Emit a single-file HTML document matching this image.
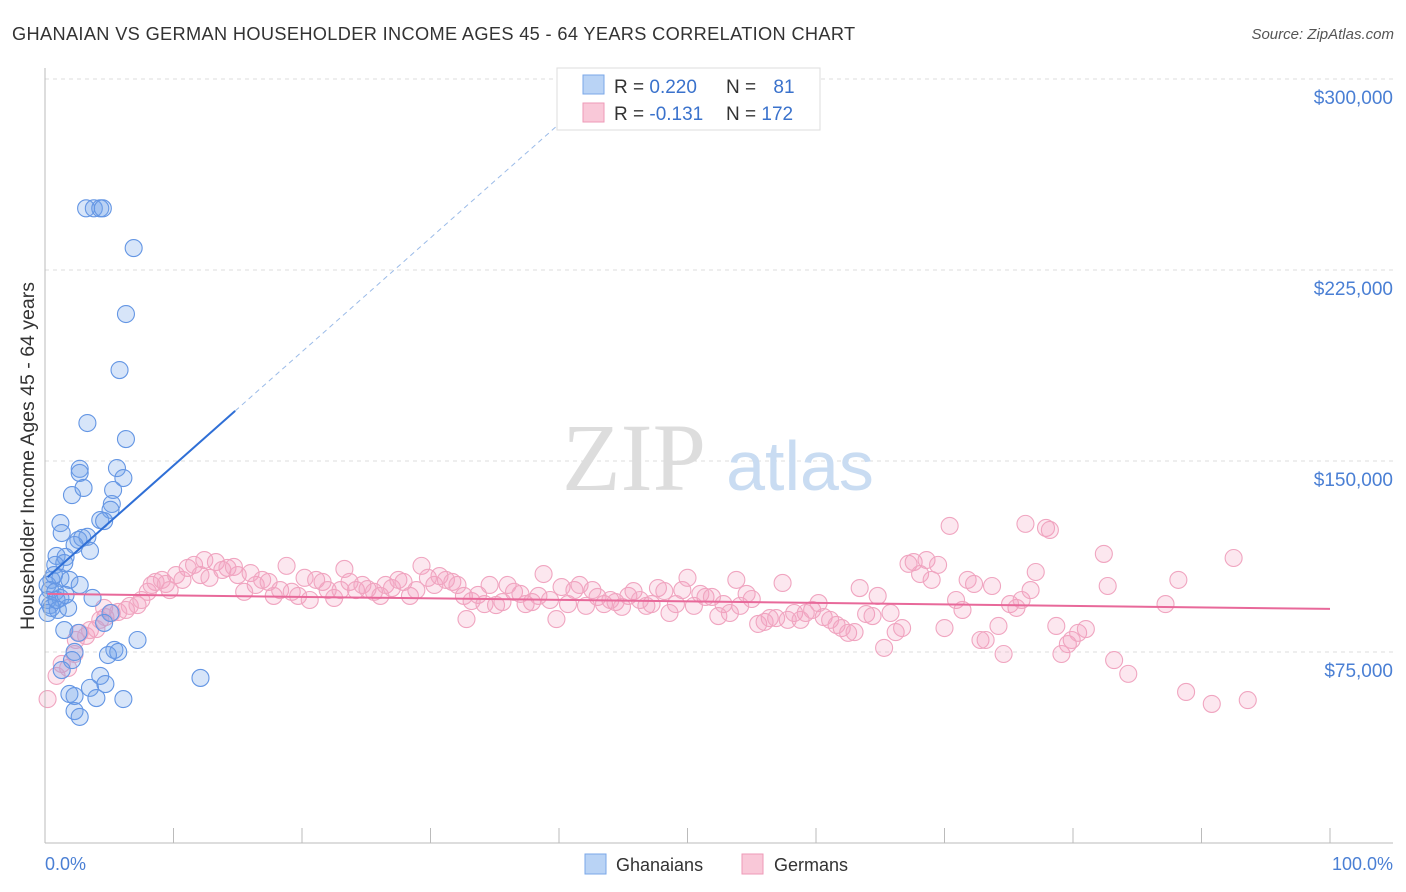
<!DOCTYPE html>
<html><head><meta charset="utf-8"><style>
body{margin:0;background:#fff;font-family:"Liberation Sans",sans-serif;}
svg{display:block}
</style></head><body>
<svg id="c" width="1406" height="892">
<text x="12" y="40" font-size="18.2" letter-spacing="0.35" fill="#333">GHANAIAN VS GERMAN HOUSEHOLDER INCOME AGES 45 - 64 YEARS CORRELATION CHART</text>
<text x="1394" y="39" font-size="15" font-style="italic" fill="#555" text-anchor="end">Source: ZipAtlas.com</text>
<g id="grid"></g>
<text x="634" y="490" font-size="96" font-family="Liberation Serif,serif" fill="#ddd" text-anchor="middle">ZIP</text>
<text x="800" y="490" font-size="70" fill="#c9dcf2" text-anchor="middle">atlas</text>
<g id="pts"></g>
<g id="trend"></g>
<line x1="45" y1="843" x2="1393" y2="843" stroke="#bbb"/>
<line x1="45" y1="68" x2="45" y2="843" stroke="#bbb"/>
<g id="ticks"></g>
<text x="45" y="870" font-size="18" fill="#4a7fd4">0.0%</text>
<text x="1393" y="870" font-size="18" fill="#4a7fd4" text-anchor="end">100.0%</text>
<text transform="translate(34,456) rotate(-90)" font-size="19.5" fill="#333" text-anchor="middle">Householder Income Ages 45 - 64 years</text>
<g>
<rect x="557" y="68" width="263" height="62" fill="#fff" stroke="#ddd"/>
<rect x="583" y="75" width="21" height="19" fill="#b9d3f5" stroke="#7aa7e8"/>
<rect x="583" y="103" width="21" height="19" fill="#f9c8d8" stroke="#ee9ab7"/>
<text x="614" y="93" font-size="19" fill="#333">R = <tspan fill="#3a72cc">0.220</tspan></text>
<text x="726" y="93" font-size="19" fill="#333">N = <tspan fill="#3a72cc" dx="12">81</tspan></text>
<text x="614" y="120" font-size="19" fill="#333">R = <tspan fill="#3a72cc">-0.131</tspan></text>
<text x="726" y="120" font-size="19" fill="#333">N = <tspan fill="#3a72cc">172</tspan></text>
</g>
<g>
<rect x="585" y="854" width="21" height="20" fill="#b9d3f5" stroke="#7aa7e8"/>
<text x="616" y="871" font-size="18" fill="#333">Ghanaians</text>
<rect x="742" y="854" width="21" height="20" fill="#f9c8d8" stroke="#ee9ab7"/>
<text x="774" y="871" font-size="18" fill="#333">Germans</text>
</g>
</svg>
<script>
const yTicks=[75000,150000,225000,300000];
const yTickLabels=["$75,000","$150,000","$225,000","$300,000"];
const blueX=[3.2,3.8,4.3,4.5,6.9,6.3,5.8,3.3,6.3,2.7,2.7,5.6,6.1,2.1,3.0,5.3,5.2,5.1,1.2,4.3,4.6,1.3,3.3,2.6,2.9,2.3,3.5,0.9,1.6,1.5,0.8,0.5,1.2,0.2,1.9,2.7,0.4,0.8,1.2,0.2,0.4,0.5,1.0,1.8,3.7,0.2,1.5,2.6,5.1,4.6,7.2,5.4,5.7,4.9,2.3,2.1,1.3,4.3,3.5,4.0,1.9,2.3,4.7,6.1,2.3,2.7,12.1,0.9,1.6,0.7];
const blueY=[250,250,250,250,234.4,208.5,186.5,165.7,159.4,147.7,146.1,148,144.1,137.4,140.2,139.4,133.9,131.6,126.4,127.6,127.2,122.5,121,119.8,120.6,117.8,115.5,113.5,113.1,110.7,110,104.1,104.9,102.1,104.1,102.1,100.1,99.4,97,96.2,94.2,93.1,92.3,93.1,97,91.1,84.4,83.3,91.1,87.2,80.5,76.6,75.8,74.6,75.8,72.6,68.7,66.4,61.7,57.7,59.3,58.5,63.2,57.3,52.6,50.3,65.6,96.2,98.2,106];
const pinkX=[0.2,0.9,1.3,1.8,2.3,2.4,2.7,3.2,3.5,4.0,4.3,4.7,5.2,5.7,4.6,6.3,6.6,7.2,7.5,8.0,8.3,8.6,9.1,9.4,9.7,10.2,10.7,11.1,11.6,12.1,12.4,12.8,13.3,13.8,14.2,14.7,15.0,15.5,16.0,16.4,16.9,17.4,17.8,18.3,18.8,19.2,19.7,20.2,20.6,21.1,21.6,22.0,22.5,23.0,23.3,23.7,24.2,24.7,25.1,25.6,26.1,26.5,27.0,27.5,27.9,28.4,28.9,29.3,29.8,30.3,30.7,31.2,31.7,32.1,32.6,32.8,33.2,33.7,34.2,34.6,35.1,35.6,36.0,36.5,37.0,37.4,37.9,38.4,38.8,39.3,39.8,40.2,40.7,41.2,41.6,42.1,42.6,43.0,43.5,44.0,44.4,44.9,45.4,45.8,46.3,46.8,47.2,47.7,48.2,48.6,49.1,49.6,50.0,50.5,51.0,51.4,51.9,52.4,52.8,53.3,53.8,54.1,54.6,55.0,55.5,56.0,56.4,56.9,57.4,57.8,58.3,58.8,59.2,59.7,60.2,60.6,61.1,61.6,62.0,62.5,63.0,63.4,63.9,64.4,64.8,65.3,65.8,66.2,66.7,67.2,67.6,68.1,68.6,69.0,69.5,70.0,70.4,70.9,71.4,71.8,72.3,72.8,73.2,73.7,74.2,74.6,75.1,75.6,76.0,76.3,76.7,77.1,77.9,78.2,78.7,79.1,79.6,79.9,80.4,81.0,82.4,82.7,83.2,84.3,87.2,88.2,88.8,90.8,92.5,93.6];
const pinkY=[57.3,66.4,71.1,69.5,75,80.5,83.3,82.1,84.4,84.8,88.4,89.5,91.1,91.5,93.1,92.3,93.9,94.2,96.2,99.4,102.1,103.3,104.1,102.5,100.1,106,104.1,108.8,110,106,111.9,104.9,111.1,108,108.8,109.2,106,99.4,106.8,102.1,104.1,103.3,97.8,100.1,109.6,99.4,97.8,104.9,96.2,104.1,103.3,100.1,97,100.1,108.4,103.3,100.1,102.1,100.5,99.4,97.8,102.1,100.9,104.1,103.3,97.8,100.1,109.6,104.9,102.1,105.6,104.1,103.3,102.1,97.8,88.7,95.8,98.2,94.6,102.1,94.2,95.4,102.1,99.4,98.6,94.6,95.4,97.8,106.4,96.2,88.7,101.3,94.6,100.1,102.1,93.9,100.1,97.4,94.6,96.2,95.4,93.5,97.8,99.7,96.2,93.9,94.6,100.9,99.7,91.1,94.6,100.1,104.9,93.9,98.6,97.4,97.4,89.9,94.6,91.1,104.1,93.9,98.6,96.6,86.8,87.6,89.1,89.1,102.9,88.4,91.1,88.4,91.1,92.3,95,89.5,88.4,86.4,85.2,83.3,83.6,100.9,90.7,89.9,97.8,77.4,91.1,83.6,85.2,110.4,111.1,106.4,111.9,104.1,110,85.2,125.3,96.2,92.3,104.1,102.5,80.5,80.5,101.7,86,75,94.6,93.1,96.2,126.1,100.1,107.2,124.5,123.7,86,75,78.9,80.5,83.3,84.8,114.3,101.7,72.6,67.2,94.6,104.1,60.1,55.4,112.7,56.9];
const blueTrend=[104.3,4.47,14.8,42.5];
const pinkTrend=[98.6,92.7];
const NS='http://www.w3.org/2000/svg';
const X=p=>45+p*12.85;
const Y=v=>845-v/75*191;
function mk(t,a,parent){const e=document.createElementNS(NS,t);for(const k in a)e.setAttribute(k,a[k]);document.getElementById(parent).appendChild(e);return e;}
yTicks.forEach((t,i)=>{
 const g=mk('line',{x1:45,y1:Y(t/1000)-2,x2:1393,y2:Y(t/1000)-2,stroke:'#ddd','stroke-dasharray':'4,4'},'grid');
 
 
 const l=mk('text',{x:1393,y:Y(t/1000)+23,'font-size':19,fill:'#4a7fd4','text-anchor':'end'},'grid');
 l.textContent=yTickLabels[i];
 
 
});
for(let i=0;i<=10;i++){
 const t=mk('line',{x1:X(i*10),y1:828,x2:X(i*10),y2:843,stroke:'#bbb'},'ticks');
 
 
}
pinkX.forEach((x,i)=>{
 const c=mk('circle',{cx:X(x),cy:Y(pinkY[i]),r:8.5,fill:'rgba(244,160,190,0.25)',stroke:'#f0a5c0','stroke-width':1.1},'pts');
 
 
});
blueX.forEach((x,i)=>{
 const c=mk('circle',{cx:X(x),cy:Y(blueY[i]),r:8.5,fill:'rgba(110,160,235,0.28)',stroke:'#6496e4','stroke-width':1.1},'pts');
 
 
});
const bv=p=>blueTrend[0]+blueTrend[1]*p;
const b1=mk('line',{x1:X(0.2),y1:Y(bv(0.2)),x2:X(blueTrend[2]),y2:Y(bv(blueTrend[2])),stroke:'#2f6fd6','stroke-width':2},'trend');


const b2=mk('line',{x1:X(blueTrend[2]),y1:Y(bv(blueTrend[2])),x2:X(blueTrend[3]),y2:Y(bv(blueTrend[3])),stroke:'#9bbbe8','stroke-width':1,'stroke-dasharray':'5,4'},'trend');


const p1=mk('line',{x1:X(0.2),y1:Y(pinkTrend[0]),x2:X(100),y2:Y(pinkTrend[1]),stroke:'#e8699a','stroke-width':2},'trend');


</script>
</body></html>
